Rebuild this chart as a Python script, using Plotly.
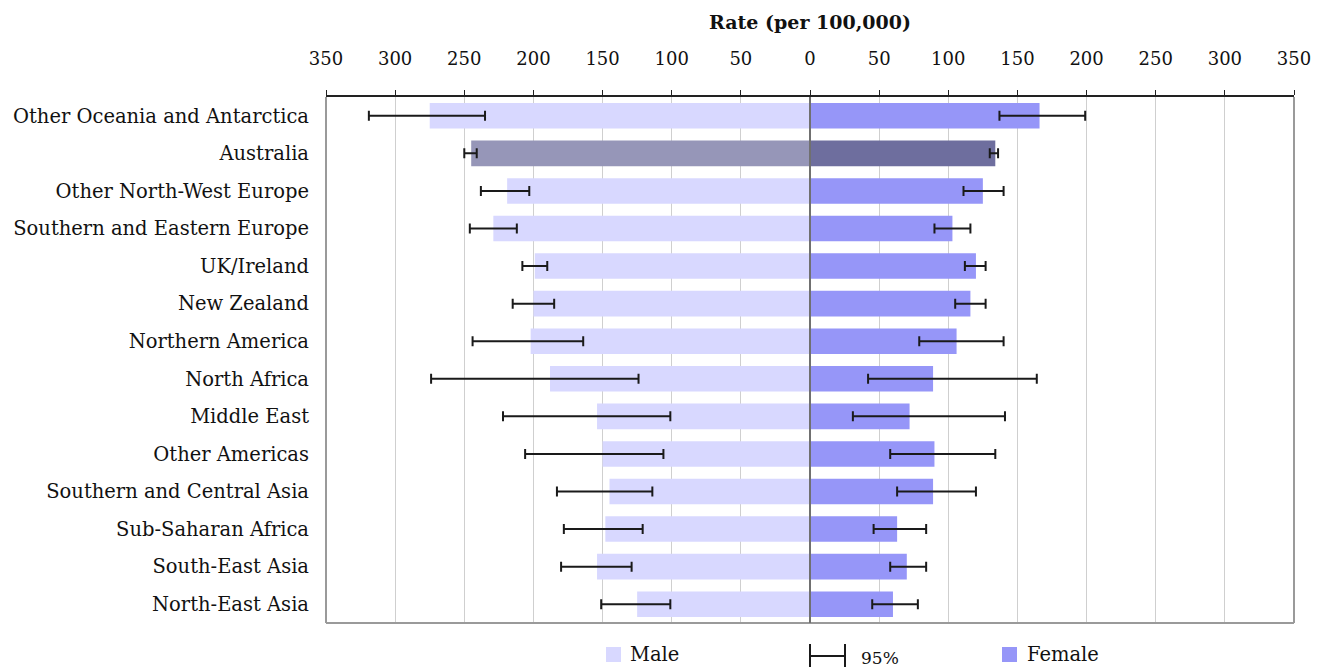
import plotly.graph_objects as go

# Country/region of birth, listed top to bottom
regions = [
    "Other Oceania and Antarctica", "Australia", "Other North-West Europe",
    "Southern and Eastern Europe", "UK/Ireland", "New Zealand",
    "Northern America", "North Africa", "Middle East", "Other Americas",
    "Southern and Central Asia", "Sub-Saharan Africa", "South-East Asia",
    "North-East Asia",
]

# Rates per 100,000 with 95% confidence limits
male_rate = [275, 245, 219, 229, 199, 200, 202, 188, 154, 150, 145, 148, 154, 125]
male_low = [235, 241, 203, 212, 190, 185, 164, 124, 101, 106, 114, 121, 129, 101]
male_high = [319, 250, 238, 246, 208, 215, 244, 274, 222, 206, 183, 178, 180, 151]

female_rate = [166, 134, 125, 103, 120, 116, 106, 89, 72, 90, 89, 63, 70, 60]
female_low = [137, 130, 111, 90, 112, 105, 79, 42, 31, 58, 63, 46, 58, 45]
female_high = [199, 136, 140, 116, 127, 127, 140, 164, 141, 134, 120, 84, 84, 78]

tick_values = [-350, -300, -250, -200, -150, -100, -50, 0, 50, 100, 150, 200, 250, 300, 350]
tick_labels = [str(abs(v)) for v in tick_values]

MALE = "#D8D8FF"
FEMALE = "#9696F8"
MALE_AUS = "#9696B8"
FEMALE_AUS = "#6E6E9E"
FONT = "DejaVu Serif"

male_colors = [MALE_AUS if r == "Australia" else MALE for r in regions]
female_colors = [FEMALE_AUS if r == "Australia" else FEMALE for r in regions]

male_x = [-v for v in male_rate]
male_plus = [m - lo for m, lo in zip(male_rate, male_low)]
male_minus = [hi - m for m, hi in zip(male_rate, male_high)]
female_plus = [hi - f for f, hi in zip(female_rate, female_high)]
female_minus = [f - lo for f, lo in zip(female_rate, female_low)]

err_style = dict(type="data", symmetric=False, color="#1A1A1A", thickness=2, width=5)

fig = go.Figure()
fig.add_trace(go.Bar(
    y=regions, x=male_x, orientation="h", name="Male",
    marker=dict(color=male_colors, line=dict(width=0)),
    error_x=dict(array=male_plus, arrayminus=male_minus, **err_style),
    showlegend=False,
))
fig.add_trace(go.Bar(
    y=regions, x=female_rate, orientation="h", name="Female",
    marker=dict(color=female_colors, line=dict(width=0)),
    error_x=dict(array=female_plus, arrayminus=female_minus, **err_style),
    showlegend=False,
))

W, H = 1326, 668
L, R, T, B = 326, 32, 97, 45
pw, ph = W - L - R, H - T - B


def px(xp):
    return (xp - L) / pw


def py(yp):
    return 1 - (yp - T) / ph


shapes = [
    # frame: grey sides and bottom
    dict(type="line", xref="paper", yref="paper", x0=0, x1=0, y0=0, y1=1,
         line=dict(color="#9A9A9A", width=2)),
    dict(type="line", xref="paper", yref="paper", x0=1, x1=1, y0=0, y1=1,
         line=dict(color="#9A9A9A", width=2)),
    dict(type="line", xref="paper", yref="paper", x0=0, x1=1, y0=0, y1=0,
         line=dict(color="#9A9A9A", width=2)),
    # centre line at zero
    dict(type="line", xref="x", yref="paper", x0=0, x1=0, y0=0, y1=1,
         line=dict(color="#707070", width=2), layer="above"),
    # legend swatches
    dict(type="rect", xref="paper", yref="paper", x0=px(606), x1=px(621), y0=py(662), y1=py(647),
         fillcolor=MALE, line=dict(width=0)),
    dict(type="rect", xref="paper", yref="paper", x0=px(1002), x1=px(1017), y0=py(662), y1=py(647),
         fillcolor=FEMALE, line=dict(width=0)),
    # 95% interval symbol
    dict(type="line", xref="paper", yref="paper", x0=px(810), x1=px(845), y0=py(656), y1=py(656),
         line=dict(color="#1A1A1A", width=2)),
    dict(type="line", xref="paper", yref="paper", x0=px(810), x1=px(810), y0=py(644), y1=py(667),
         line=dict(color="#1A1A1A", width=2)),
    dict(type="line", xref="paper", yref="paper", x0=px(845), x1=px(845), y0=py(644), y1=py(667),
         line=dict(color="#1A1A1A", width=2)),
]

annotations = [
    dict(text="<b>Rate (per 100,000)</b>", xref="paper", yref="paper", x=px(810), y=py(22),
         xanchor="center", yanchor="middle", showarrow=False,
         font=dict(family=FONT, size=19, color="#111111")),
    dict(text="Male", xref="paper", yref="paper", x=px(628), y=py(654),
         xanchor="left", yanchor="middle", showarrow=False,
         font=dict(family=FONT, size=19.5, color="#111111")),
    dict(text="95%", xref="paper", yref="paper", x=px(859), y=py(658),
         xanchor="left", yanchor="middle", showarrow=False,
         font=dict(family=FONT, size=17, color="#111111")),
    dict(text="Female", xref="paper", yref="paper", x=px(1025), y=py(654),
         xanchor="left", yanchor="middle", showarrow=False,
         font=dict(family=FONT, size=19.5, color="#111111")),
]

fig.update_layout(
    width=W, height=H,
    margin=dict(l=L, r=R, t=T, b=B),
    paper_bgcolor="white", plot_bgcolor="white",
    barmode="overlay", bargap=0.32,
    font=dict(family=FONT, size=18, color="#111111"),
    shapes=shapes, annotations=annotations,
    xaxis=dict(
        side="top", range=[-350, 350], tickmode="array",
        tickvals=tick_values, ticktext=tick_labels,
        showgrid=True, gridcolor="#CFCFCF", gridwidth=1,
        zeroline=False,
        showline=True, linecolor="#222222", linewidth=2,
        ticks="outside", ticklen=5, tickcolor="#222222", tickwidth=1,
        ticklabelstandoff=18,
        tickfont=dict(family=FONT, size=18, color="#111111"),
        fixedrange=True,
    ),
    yaxis=dict(
        categoryorder="array", categoryarray=regions, autorange="reversed",
        showgrid=False, zeroline=False, showline=False, ticks="",
        ticklabelstandoff=16,
        tickfont=dict(family=FONT, size=19.5, color="#111111"),
        fixedrange=True,
    ),
)

fig.write_html("out.html")
